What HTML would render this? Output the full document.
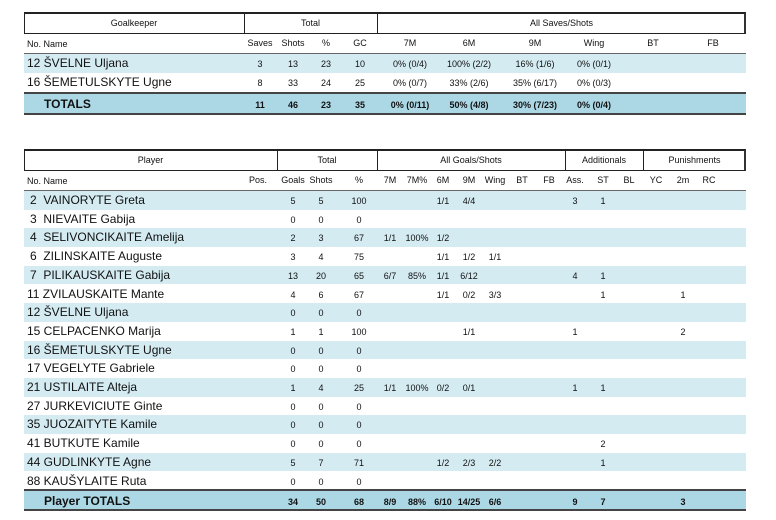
<!DOCTYPE html>
<html><head><meta charset="utf-8"><style>
body{margin:0;background:#fff;font-family:"Liberation Sans",sans-serif;color:#111;}
.a{position:absolute;}
.box{position:absolute;border:1px solid #222;border-top:2px solid #222;border-right:2px solid #333;box-sizing:border-box;}
.vd{position:absolute;width:1px;background:#222;}
.ht{position:absolute;font-size:9px;text-align:center;}
.row{position:absolute;left:24px;width:722px;}
.row span{position:absolute;width:50px;text-align:center;font-size:9px;}
.nm{position:absolute;font-size:12px;white-space:pre;}
.bl{background:#d4ebf2;}
.tot{background:#acd8e6;border-top:2px solid #444;border-bottom:2px solid #444;box-sizing:border-box;}
.tot span{font-weight:bold;}
.sub{position:absolute;font-size:9px;}
</style></head><body>
<!-- Table 1 -->
<div class="box" style="left:24px;top:12px;width:722px;height:22px"></div>
<div class="vd" style="left:244px;top:12px;height:22px"></div>
<div class="vd" style="left:377px;top:12px;height:22px"></div>
<div class="ht" style="left:24px;width:220px;top:18px">Goalkeeper</div>
<div class="ht" style="left:244px;width:133px;top:18px">Total</div>
<div class="ht" style="left:377px;width:369px;top:18px">All Saves/Shots</div>
<div class="sub" style="left:27px;top:39px">No. Name</div>
<div class="row" style="top:38px;height:14px">
<span style="left:211px">Saves</span><span style="left:244px">Shots</span><span style="left:277px">%</span><span style="left:311px">GC</span><span style="left:361px">7M</span><span style="left:420px">6M</span><span style="left:486px">9M</span><span style="left:545px">Wing</span><span style="left:604px">BT</span><span style="left:664px">FB</span></div>
<div class="a" style="left:24px;top:53px;width:722px;height:1px;background:#666"></div>
<div class="row bl" style="top:54px;height:19px">
<div class="nm" style="left:3px;top:2px">12 ŠVELNE Uljana</div>
<span style="left:211px;top:5px">3</span><span style="left:244px;top:5px">13</span><span style="left:277px;top:5px">23</span><span style="left:311px;top:5px">10</span><span style="left:361px;top:5px">0% (0/4)</span><span style="left:415px;top:5px;width:60px">100% (2/2)</span><span style="left:481px;top:5px;width:60px">16% (1/6)</span><span style="left:545px;top:5px">0% (0/1)</span></div>
<div class="row" style="top:73px;height:19px">
<div class="nm" style="left:3px;top:2px">16 ŠEMETULSKYTE Ugne</div>
<span style="left:211px;top:5px">8</span><span style="left:244px;top:5px">33</span><span style="left:277px;top:5px">24</span><span style="left:311px;top:5px">25</span><span style="left:361px;top:5px">0% (0/7)</span><span style="left:420px;top:5px">33% (2/6)</span><span style="left:481px;top:5px;width:60px">35% (6/17)</span><span style="left:545px;top:5px">0% (0/3)</span></div>
<div class="row tot" style="top:92px;height:23px">
<div class="nm" style="left:20px;top:3px;font-weight:bold">TOTALS</div>
<span style="left:211px;top:6px">11</span><span style="left:244px;top:6px">46</span><span style="left:277px;top:6px">23</span><span style="left:311px;top:6px">35</span><span style="left:356px;top:6px;width:60px">0% (0/11)</span><span style="left:420px;top:6px">50% (4/8)</span><span style="left:481px;top:6px;width:60px">30% (7/23)</span><span style="left:545px;top:6px">0% (0/4)</span></div>

<!-- Table 2 -->
<div class="box" style="left:24px;top:149px;width:722px;height:22px"></div>
<div class="vd" style="left:277px;top:149px;height:22px"></div>
<div class="vd" style="left:377px;top:149px;height:22px"></div>
<div class="vd" style="left:565px;top:149px;height:22px"></div>
<div class="vd" style="left:643px;top:149px;height:22px"></div>
<div class="ht" style="left:24px;width:253px;top:155px">Player</div>
<div class="ht" style="left:277px;width:100px;top:155px">Total</div>
<div class="ht" style="left:377px;width:188px;top:155px">All Goals/Shots</div>
<div class="ht" style="left:565px;width:78px;top:155px">Additionals</div>
<div class="ht" style="left:643px;width:103px;top:155px">Punishments</div>
<div class="sub" style="left:27px;top:176px">No. Name</div>
<div class="row" style="top:175px;height:14px">
<span style="left:209px">Pos.</span><span style="left:244px">Goals</span><span style="left:272px">Shots</span><span style="left:310px">%</span><span style="left:341px">7M</span><span style="left:368px">7M%</span><span style="left:394px">6M</span><span style="left:420px">9M</span><span style="left:446px">Wing</span><span style="left:473px">BT</span><span style="left:500px">FB</span><span style="left:526px">Ass.</span><span style="left:554px">ST</span><span style="left:580px">BL</span><span style="left:607px">YC</span><span style="left:634px">2m</span><span style="left:660px">RC</span></div>
<div class="a" style="left:24px;top:190px;width:722px;height:1px;background:#666"></div>

<div class="row bl" style="top:191px;height:18.7px"><div class="nm" style="left:6px;top:2px">2  VAINORYTE Greta</div><span style="left:244px;top:5px">5</span><span style="left:272px;top:5px">5</span><span style="left:310px;top:5px">100</span><span style="left:394px;top:5px">1/1</span><span style="left:420px;top:5px">4/4</span><span style="left:526px;top:5px">3</span><span style="left:554px;top:5px">1</span></div>
<div class="row" style="top:209.7px;height:18.7px"><div class="nm" style="left:6px;top:2px">3  NIEVAITE Gabija</div><span style="left:244px;top:5px">0</span><span style="left:272px;top:5px">0</span><span style="left:310px;top:5px">0</span></div>
<div class="row bl" style="top:228.4px;height:18.7px"><div class="nm" style="left:6px;top:2px">4  SELIVONCIKAITE Amelija</div><span style="left:244px;top:5px">2</span><span style="left:272px;top:5px">3</span><span style="left:310px;top:5px">67</span><span style="left:341px;top:5px">1/1</span><span style="left:368px;top:5px">100%</span><span style="left:394px;top:5px">1/2</span></div>
<div class="row" style="top:247.1px;height:18.7px"><div class="nm" style="left:6px;top:2px">6  ZILINSKAITE Auguste</div><span style="left:244px;top:5px">3</span><span style="left:272px;top:5px">4</span><span style="left:310px;top:5px">75</span><span style="left:394px;top:5px">1/1</span><span style="left:420px;top:5px">1/2</span><span style="left:446px;top:5px">1/1</span></div>
<div class="row bl" style="top:265.8px;height:18.7px"><div class="nm" style="left:6px;top:2px">7  PILIKAUSKAITE Gabija</div><span style="left:244px;top:5px">13</span><span style="left:272px;top:5px">20</span><span style="left:310px;top:5px">65</span><span style="left:341px;top:5px">6/7</span><span style="left:368px;top:5px">85%</span><span style="left:394px;top:5px">1/1</span><span style="left:420px;top:5px">6/12</span><span style="left:526px;top:5px">4</span><span style="left:554px;top:5px">1</span></div>
<div class="row" style="top:284.5px;height:18.7px"><div class="nm" style="left:3px;top:2px">11 ZVILAUSKAITE Mante</div><span style="left:244px;top:5px">4</span><span style="left:272px;top:5px">6</span><span style="left:310px;top:5px">67</span><span style="left:394px;top:5px">1/1</span><span style="left:420px;top:5px">0/2</span><span style="left:446px;top:5px">3/3</span><span style="left:554px;top:5px">1</span><span style="left:634px;top:5px">1</span></div>
<div class="row bl" style="top:303.2px;height:18.7px"><div class="nm" style="left:3px;top:2px">12 ŠVELNE Uljana</div><span style="left:244px;top:5px">0</span><span style="left:272px;top:5px">0</span><span style="left:310px;top:5px">0</span></div>
<div class="row" style="top:321.9px;height:18.7px"><div class="nm" style="left:3px;top:2px">15 CELPACENKO Marija</div><span style="left:244px;top:5px">1</span><span style="left:272px;top:5px">1</span><span style="left:310px;top:5px">100</span><span style="left:420px;top:5px">1/1</span><span style="left:526px;top:5px">1</span><span style="left:634px;top:5px">2</span></div>
<div class="row bl" style="top:340.6px;height:18.7px"><div class="nm" style="left:3px;top:2px">16 ŠEMETULSKYTE Ugne</div><span style="left:244px;top:5px">0</span><span style="left:272px;top:5px">0</span><span style="left:310px;top:5px">0</span></div>
<div class="row" style="top:359.3px;height:18.7px"><div class="nm" style="left:3px;top:2px">17 VEGELYTE Gabriele</div><span style="left:244px;top:5px">0</span><span style="left:272px;top:5px">0</span><span style="left:310px;top:5px">0</span></div>
<div class="row bl" style="top:378px;height:18.7px"><div class="nm" style="left:3px;top:2px">21 USTILAITE Alteja</div><span style="left:244px;top:5px">1</span><span style="left:272px;top:5px">4</span><span style="left:310px;top:5px">25</span><span style="left:341px;top:5px">1/1</span><span style="left:368px;top:5px">100%</span><span style="left:394px;top:5px">0/2</span><span style="left:420px;top:5px">0/1</span><span style="left:526px;top:5px">1</span><span style="left:554px;top:5px">1</span></div>
<div class="row" style="top:396.7px;height:18.7px"><div class="nm" style="left:3px;top:2px">27 JURKEVICIUTE Ginte</div><span style="left:244px;top:5px">0</span><span style="left:272px;top:5px">0</span><span style="left:310px;top:5px">0</span></div>
<div class="row bl" style="top:415.4px;height:18.7px"><div class="nm" style="left:3px;top:2px">35 JUOZAITYTE Kamile</div><span style="left:244px;top:5px">0</span><span style="left:272px;top:5px">0</span><span style="left:310px;top:5px">0</span></div>
<div class="row" style="top:434.1px;height:18.7px"><div class="nm" style="left:3px;top:2px">41 BUTKUTE Kamile</div><span style="left:244px;top:5px">0</span><span style="left:272px;top:5px">0</span><span style="left:310px;top:5px">0</span><span style="left:554px;top:5px">2</span></div>
<div class="row bl" style="top:452.8px;height:18.7px"><div class="nm" style="left:3px;top:2px">44 GUDLINKYTE Agne</div><span style="left:244px;top:5px">5</span><span style="left:272px;top:5px">7</span><span style="left:310px;top:5px">71</span><span style="left:394px;top:5px">1/2</span><span style="left:420px;top:5px">2/3</span><span style="left:446px;top:5px">2/2</span><span style="left:554px;top:5px">1</span></div>
<div class="row" style="top:471.5px;height:18.7px"><div class="nm" style="left:3px;top:2px">88 KAUŠYLAITE Ruta</div><span style="left:244px;top:5px">0</span><span style="left:272px;top:5px">0</span><span style="left:310px;top:5px">0</span></div>
<div class="row tot" style="top:489px;height:22px"><div class="nm" style="left:20px;top:3px;font-weight:bold">Player TOTALS</div><span style="left:244px;top:6px">34</span><span style="left:272px;top:6px">50</span><span style="left:310px;top:6px">68</span><span style="left:341px;top:6px">8/9</span><span style="left:368px;top:6px">88%</span><span style="left:394px;top:6px">6/10</span><span style="left:420px;top:6px">14/25</span><span style="left:446px;top:6px">6/6</span><span style="left:526px;top:6px">9</span><span style="left:554px;top:6px">7</span><span style="left:634px;top:6px">3</span></div>
</body></html>
